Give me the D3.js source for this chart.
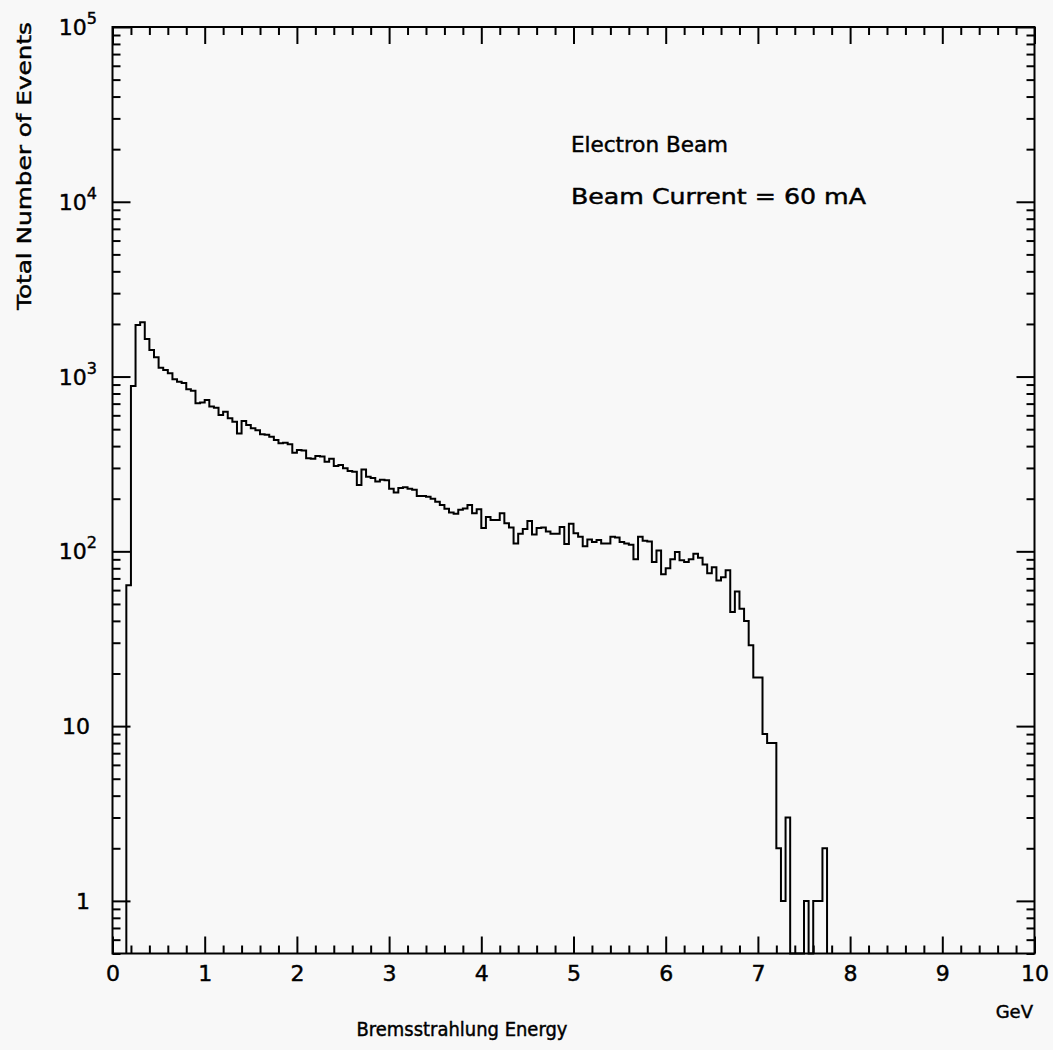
<!DOCTYPE html>
<html>
<head>
<meta charset="utf-8">
<script src="https://cdn.jsdelivr.net/npm/d3@7/dist/d3.min.js"></script>
<style>
  html, body { margin: 0; padding: 0; background: #f8f8f8; }
  svg { display: block; }
  text { font-family: "DejaVu Sans", sans-serif; fill: #000; stroke: #000; stroke-width: 0.45px; }
</style>
</head>
<body>
<svg id="chart" width="1053" height="1050"></svg>
<script>
// ---- data ----
const binStart = 0.15;      // GeV, lower edge of first bin
const binWidth = 0.05;      // GeV
const counts = [
  64, 884, 1975, 2045, 1641, 1420, 1290, 1124, 1090, 1045,
  966, 935, 920, 845, 830, 703, 710, 734, 673, 662,
  603, 630, 577, 552, 473, 557, 528, 506, 493, 468,
  465, 453, 434, 415, 418, 410, 367, 380, 378, 341,
  339, 351, 349, 326, 339, 308, 312, 299, 288, 285,
  240, 294, 267, 263, 251, 257, 255, 228, 217, 230,
  233, 228, 225, 207, 207, 205, 200, 192, 184, 175,
  167, 164, 173, 176, 184, 165, 174, 136, 157, 151,
  151, 165, 145, 137, 111, 126, 134, 149, 125, 136,
  137, 130, 126, 126, 138, 110, 144, 127, 121, 107,
  117, 113, 116, 111, 111, 121, 120, 113, 111, 109,
  90, 121, 115, 114, 87, 101, 74, 80, 90, 99,
  89, 87, 90, 97, 92, 84, 75, 81, 68, 71,
  78, 45, 59, 47, 40, 29, 19, 19, 9, 8,
  8, 2, 1, 3, 0, 0, 0, 1, 0, 1,
  1, 2
];
const xTickValues = [0, 1, 2, 3, 4, 5, 6, 7, 8, 9, 10];
const xTickLabels = ["0", "1", "2", "3", "4", "5", "6", "7", "8", "9", "10"];
const yMajorValues = [1, 10, 100, 1000, 10000, 100000];
const yLabelBase = ["1", "10", "10", "10", "10", "10"];
const yLabelExp = ["", "", "2", "3", "4", "5"];
const xTitle = "Bremsstrahlung Energy";
const xUnit = "GeV";
const yTitle = "Total Number of Events";
const notes = ["Electron Beam", "Beam Current = 60 mA"];

// ---- layout ----
const L = 112.5, R = 1034.5, T = 27, B = 953.5;
const svg = d3.select("#chart");
const x = d3.scaleLinear().domain([0, 10]).range([L, R]);
const y = d3.scaleLog().domain([0.5, 1e5]).range([B, T]);

// minor tick values
const xMinor = d3.range(0, 50).map(i => i * 0.2).filter(v => Math.abs(v - Math.round(v)) > 1e-6 && v < 10);
const yMinor = [];
[0.1, 1, 10, 100, 1000, 10000].forEach(d => { for (let k = 2; k <= 9; k++) { const v = d * k; if (v >= 0.5 && v < 1e5) yMinor.push(v); } });

function tickAxis(gen, scale, vals, size, tx, ty) {
  const g = svg.append("g").attr("transform", `translate(${tx},${ty})`)
    .call(gen(scale).tickValues(vals).tickSize(size).tickFormat(""));
  g.select(".domain").remove();
  g.selectAll(".tick line").attr("stroke", "#000").attr("stroke-width", 2);
  return g;
}
// bottom (ticks up), top (ticks down), left (ticks right), right (ticks left)
tickAxis(d3.axisBottom, x, xTickValues, -17, 0, B);
tickAxis(d3.axisBottom, x, xMinor, -8, 0, B);
tickAxis(d3.axisTop, x, xTickValues, -17, 0, T);
tickAxis(d3.axisTop, x, xMinor, -8, 0, T);
tickAxis(d3.axisLeft, y, yMajorValues, -18, L, 0);
tickAxis(d3.axisLeft, y, yMinor, -8, L, 0);
tickAxis(d3.axisRight, y, yMajorValues, -18, R, 0);
tickAxis(d3.axisRight, y, yMinor, -8, R, 0);

// x tick labels via axis
const xl = svg.append("g").attr("transform", `translate(0,${B})`)
  .call(d3.axisBottom(x).tickValues(xTickValues).tickSize(0).tickPadding(12)
    .tickFormat((d, i) => xTickLabels[i]));
xl.select(".domain").remove();
xl.selectAll("text").attr("font-size", 22).attr("font-family", "DejaVu Sans, sans-serif").attr("fill", "#000");

// y tick labels with superscripts
yMajorValues.forEach((v, i) => {
  const t = svg.append("text")
    .attr("x", yLabelExp[i] ? 97 : 90)
    .attr("y", y(v) + 8)
    .attr("text-anchor", "end")
    .attr("font-size", 22);
  t.append("tspan").text(yLabelBase[i]);
  if (yLabelExp[i]) t.append("tspan").attr("font-size", 16).attr("dy", -11).text(yLabelExp[i]);
});

// histogram outline
const pts = [];
pts.push([x(binStart), B]);
counts.forEach((c, i) => {
  const x0 = binStart + i * binWidth, x1 = x0 + binWidth;
  const yy = c > 0 ? y(c) : B;
  pts.push([x(x0), yy]);
  pts.push([x(x1), yy]);
});
pts.push([x(binStart + counts.length * binWidth), B]);
svg.append("path")
  .attr("d", d3.line()(pts))
  .attr("fill", "none")
  .attr("stroke", "#000")
  .attr("stroke-width", 2)
  .attr("stroke-linejoin", "miter");

// frame
svg.append("rect").attr("x", L).attr("y", T).attr("width", R - L).attr("height", B - T)
  .attr("fill", "none").attr("stroke", "#000").attr("stroke-width", 2);

// titles
svg.append("text").attr("x", 462).attr("y", 1036).attr("text-anchor", "middle")
  .attr("font-size", 19).attr("textLength", 211).attr("lengthAdjust", "spacingAndGlyphs").text(xTitle);
svg.append("text").attr("x", 1033).attr("y", 1018).attr("text-anchor", "end")
  .attr("font-size", 18).text(xUnit);
svg.append("text").attr("transform", "translate(31,22) rotate(-90)").attr("text-anchor", "end")
  .attr("font-size", 20).attr("textLength", 288).attr("lengthAdjust", "spacingAndGlyphs").text(yTitle);

// annotations
svg.append("text").attr("x", 571).attr("y", 152).attr("font-size", 21)
  .attr("textLength", 157).attr("lengthAdjust", "spacingAndGlyphs").text(notes[0]);
svg.append("text").attr("x", 571).attr("y", 204).attr("font-size", 21)
  .attr("textLength", 295).attr("lengthAdjust", "spacingAndGlyphs").text(notes[1]);
</script>
</body>
</html>
